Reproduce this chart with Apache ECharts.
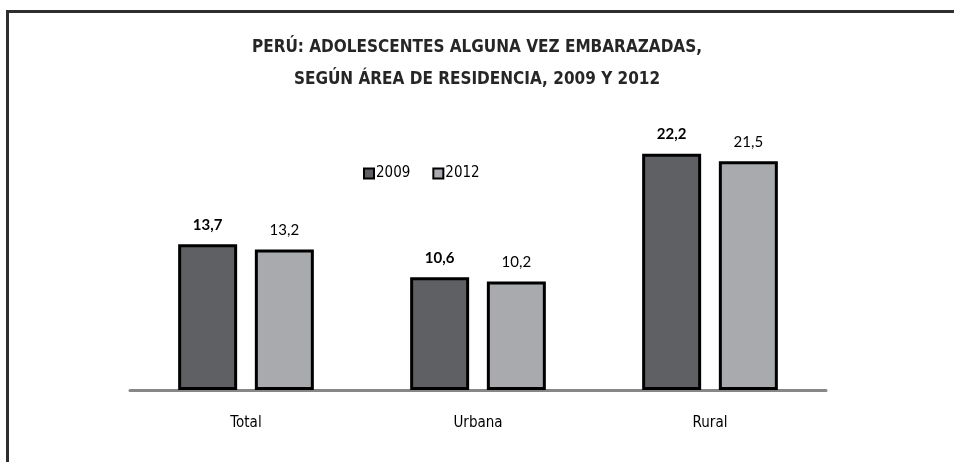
<!DOCTYPE html>
<html>
<head>
<meta charset="utf-8">
<script src="https://cdn.jsdelivr.net/npm/echarts@6/dist/echarts.min.js"></script>
<style>
  html, body { margin: 0; padding: 0; background: #fff; }
  #wrap { position: relative; width: 954px; height: 462px; overflow: hidden; }
  #frame {
    position: absolute; left: 6px; top: 10px; right: -10px; bottom: -10px;
    border-left: 3px solid #2e2e2e; border-top: 3px solid #2e2e2e;
  }
  #chart { position: absolute; left: 0; top: 0; width: 954px; height: 462px; }
</style>
</head>
<body>
<div id="wrap">
  <div id="frame"></div>
  <div id="chart"></div>
</div>
<script>
const categories = ["Total", "Urbana", "Rural"];
const years = ["2009", "2012"];
const values2009 = [13.7, 10.6, 22.2];
const values2012 = [13.2, 10.2, 21.5];

const narrow = "'Liberation Sans Narrow', 'DejaVu Sans Condensed', Arial, sans-serif";
const labelFont = "Lato, 'Open Sans', sans-serif";
const fmt = p => p.value.toFixed(1).replace(".", ",");

const chart = echarts.init(document.getElementById("chart"));

chart.setOption({
  backgroundColor: "transparent",
  animation: false,
  title: {
    text: "PERÚ: ADOLESCENTES ALGUNA VEZ EMBARAZADAS,\nSEGÚN ÁREA DE RESIDENCIA, 2009 Y 2012",
    left: "center",
    top: 27,
    textStyle: {
      fontFamily: narrow,
      fontWeight: "bold",
      fontSize: 17,
      lineHeight: 32,
      color: "#262626",
    },
  },
  legend: {
    data: years,
    left: 358,
    top: 161,
    itemWidth: 10,
    itemHeight: 10,
    itemGap: 22,
    icon: "rect",
    textStyle: { fontFamily: narrow, fontSize: 15, color: "#000", padding: [0, 0, 0, -3] },
  },
  grid: { left: 130, right: 128, top: 124, bottom: 72, containLabel: false },
  xAxis: {
    type: "category",
    data: categories,
    axisLine: { lineStyle: { color: "#878787", width: 3 } },
    axisTick: { show: false },
    axisLabel: { color: "#000", fontFamily: narrow, fontSize: 15, margin: 26 },
  },
  yAxis: {
    type: "value",
    min: 0,
    max: 25,
    show: false,
    splitLine: { show: false },
  },
  series: [
    {
      name: years[0],
      type: "bar",
      data: values2009,
      barWidth: 59,
      barGap: "30%",
      itemStyle: { color: "#5f6064", borderColor: "#000", borderWidth: 3 },
      label: {
        show: true,
        position: "top",
        distance: 12,
        formatter: fmt,
        fontFamily: labelFont,
        fontWeight: "bold",
        fontSize: 15,
        color: "#000",
      },
    },
    {
      name: years[1],
      type: "bar",
      data: values2012,
      barWidth: 59,
      itemStyle: { color: "#a9aaad", borderColor: "#000", borderWidth: 3 },
      label: {
        show: true,
        position: "top",
        distance: 12,
        formatter: fmt,
        fontFamily: labelFont,
        fontSize: 15,
        color: "#000",
      },
    },
  ],
});
</script>
</body>
</html>
